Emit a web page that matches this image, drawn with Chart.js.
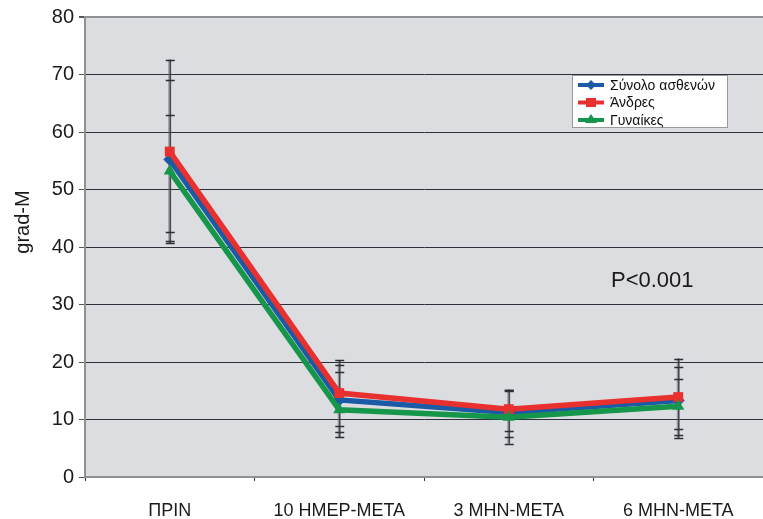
<!DOCTYPE html>
<html>
<head>
<meta charset="utf-8">
<script src="https://cdn.jsdelivr.net/npm/chart.js@4"></script>
<style>
  html, body { margin: 0; padding: 0; background: #fff; overflow: hidden; }
  #wrap { width: 763px; height: 519px; position: relative; overflow: hidden; }
</style>
</head>
<body>
<div id="wrap"><canvas id="chart" width="770" height="519"></canvas></div>
<script>
const categories = ['ΠΡΙΝ', '10 ΗΜΕΡ-ΜΕΤΑ', '3 ΜΗΝ-ΜΕΤΑ', '6 ΜΗΝ-ΜΕΤΑ']
const seriesNames = ['Σύνολο ασθενών', 'Άνδρες', 'Γυναίκες']

const totalValues = [55.2, 13.4, 11.2, 13.3]
const menValues = [56.6, 14.6, 11.8, 13.9]
const womenValues = [53.2, 11.7, 10.4, 12.3]

// error bar ends
const totalHigh = [69.0, 19.4, 15.1, 19.1]
const totalLow = [41.0, 7.8, 7.0, 7.3]
const menHigh = [72.6, 20.3, 15.2, 20.6]
const menLow = [40.7, 6.9, 5.8, 6.7]
const womenHigh = [63.0, 18.2, 14.9, 17.1]
const womenLow = [42.6, 8.8, 8.0, 8.3]

const yTicks = [0, 10, 20, 30, 40, 50, 60, 70, 80]
const note = 'P<0.001'
const yTitle = 'grad-M'

const FONT = "'Liberation Sans', Arial, sans-serif"
const colors = ['#1b5ba6', '#e8302e', '#16964b']
const markers = ['rectRot', 'rect', 'triangle']

const errHigh = [totalHigh, menHigh, womenHigh]
const errLow = [totalLow, menLow, womenLow]

const bgPlugin = {
    id: 'plotBg',
    beforeDraw(chart) {
        const { ctx, chartArea: a } = chart
        ctx.save()
        ctx.fillStyle = '#dcdde0'
        ctx.fillRect(a.left, a.top, a.right - a.left, a.bottom - a.top)
        ctx.restore()
    }
}

const errorBars = {
    id: 'errorBars',
    beforeDatasetsDraw(chart) {
        const { ctx } = chart
        const x = chart.scales.x
        const y = chart.scales.y
        ctx.save()
        categories.forEach((c, i) => {
            const px = x.getPixelForValue(i)
            const hi = Math.max(...errHigh.map(s => s[i]))
            const lo = Math.min(...errLow.map(s => s[i]))
            ctx.strokeStyle = 'rgba(90,95,105,0.55)'
            ctx.lineWidth = 3
            ctx.beginPath()
            ctx.moveTo(px, y.getPixelForValue(hi))
            ctx.lineTo(px, y.getPixelForValue(lo))
            ctx.stroke()
            ctx.strokeStyle = '#2c2f36'
            ctx.lineWidth = 1
            ctx.beginPath()
            ctx.moveTo(px + 0.5, y.getPixelForValue(hi))
            ctx.lineTo(px + 0.5, y.getPixelForValue(lo))
            ctx.stroke()
            ctx.lineWidth = 1.5
            errHigh.concat(errLow).forEach(s => {
                const py = Math.round(y.getPixelForValue(s[i])) + 0.5
                ctx.beginPath()
                ctx.moveTo(px - 4, py)
                ctx.lineTo(px + 5, py)
                ctx.stroke()
            })
        })
        ctx.restore()
    }
}

const extras = {
    id: 'extras',
    afterDraw(chart) {
        const { ctx } = chart
        ctx.save()
        // y axis title
        ctx.translate(23, 222)
        ctx.rotate(-Math.PI / 2)
        ctx.fillStyle = '#1a1a1a'
        ctx.font = '20px ' + FONT
        ctx.textAlign = 'center'
        ctx.textBaseline = 'middle'
        ctx.fillText(yTitle, 0, 0)
        ctx.restore()

        ctx.save()
        ctx.fillStyle = '#1a1a1a'
        ctx.font = '22px ' + FONT
        ctx.textBaseline = 'middle'
        ctx.fillText(note, 611, 281)
        ctx.restore()

        // legend box
        ctx.save()
        ctx.fillStyle = '#ffffff'
        ctx.fillRect(572, 75, 155, 52)
        ctx.strokeStyle = '#9a9a9a'
        ctx.lineWidth = 1
        ctx.strokeRect(572.5, 75.5, 155, 52)
        seriesNames.forEach((name, i) => {
            const cy = 85 + i * 17.5
            ctx.strokeStyle = colors[i]
            ctx.lineWidth = 4
            ctx.beginPath()
            ctx.moveTo(578, cy)
            ctx.lineTo(604, cy)
            ctx.stroke()
            ctx.fillStyle = colors[i]
            ctx.beginPath()
            if (i === 0) {
                ctx.moveTo(591, cy - 5); ctx.lineTo(596, cy); ctx.lineTo(591, cy + 5); ctx.lineTo(586, cy)
            } else if (i === 1) {
                ctx.rect(586, cy - 4.5, 10, 9)
            } else {
                ctx.moveTo(591, cy - 6); ctx.lineTo(597, cy + 3); ctx.lineTo(585, cy + 3)
            }
            ctx.closePath()
            ctx.fill()
            ctx.fillStyle = '#111'
            ctx.font = '14px ' + FONT
            ctx.textBaseline = 'middle'
            ctx.fillText(name, 610, cy + 1)
        })
        ctx.restore()
    }
}

const values = [totalValues, menValues, womenValues]

new Chart(document.getElementById('chart'), {
    type: 'line',
    data: {
        labels: categories,
        datasets: seriesNames.map((name, i) => ({
            label: name,
            data: values[i],
            borderColor: colors[i],
            backgroundColor: colors[i],
            borderWidth: 5.5,
            pointStyle: markers[i],
            pointRadius: i === 0 ? 6.5 : 7,
            pointBorderWidth: 0,
            tension: 0,
            order: 3 - i
        }))
    },
    options: {
        responsive: false,
        animation: false,
        layout: { padding: { top: 15, right: 0, left: 0, bottom: 0 } },
        plugins: { legend: { display: false }, tooltip: { enabled: false } },
        scales: {
            x: {
                offset: true,
                grid: { offset: true, drawOnChartArea: false, drawTicks: true, tickLength: 4, color: '#333' },
                border: { color: '#8e9196', width: 2 },
                ticks: { color: '#1a1a1a', font: { family: FONT, size: 18 }, padding: 19, maxRotation: 0 },
                afterFit(scale) { scale.height = 42 }
            },
            y: {
                min: 0,
                max: 80,
                afterBuildTicks(scale) { scale.ticks = yTicks.map(v => ({ value: v })) },
                grid: {
                    color: ctx => {
                        if (!ctx.tick) return '#2b313c'
                        if (ctx.tick.value === 0) return 'rgba(0,0,0,0)'
                        if (ctx.tick.value === 80) return '#8e9196'
                        return '#2b313c'
                    },
                    tickColor: '#555',
                    tickLength: 6,
                    lineWidth: ctx => (ctx.tick && ctx.tick.value === 80) ? 2 : 1
                },
                border: { color: '#8e9196', width: 2 },
                ticks: { color: '#1a1a1a', font: { family: FONT, size: 20 }, padding: 5 },
                afterFit(scale) { scale.width = 85 }
            }
        }
    },
    plugins: [bgPlugin, errorBars, extras]
})
</script>
</body>
</html>
